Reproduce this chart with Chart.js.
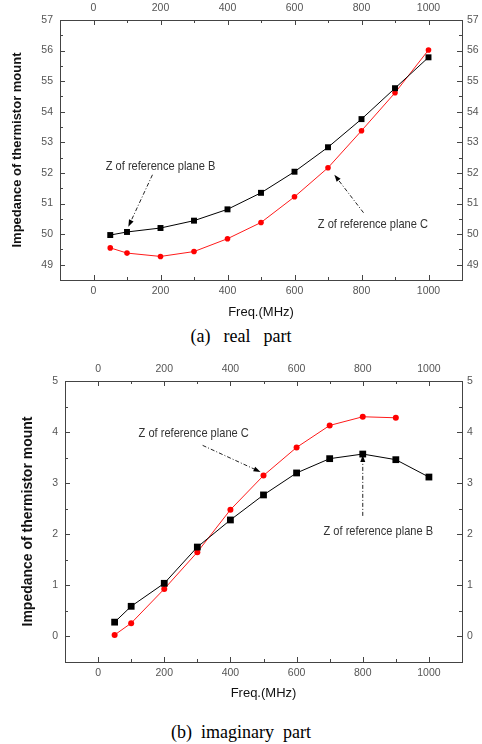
<!DOCTYPE html>
<html>
  <head>
    <title>Impedance of thermistor mount</title>
    <script src="https://cdn.jsdelivr.net/npm/chart.js"></script>
    <style>
      body { margin: 0; background: #fff; width: 482px; height: 744px; position: relative; overflow: hidden; }
      .box { position: absolute; left: 0; width: 482px; }
      .caption { position: absolute; left: 0; width: 482px; text-align: center; white-space: pre; line-height: 21px;
                 font-family: "Liberation Serif", "Times New Roman", serif; font-size: 18px; color: #000; }
    </style>
  </head>
  <body>
    <div class="box" style="top:0;height:322px"><canvas id="realChart"></canvas></div>
    <div class="caption" style="top:326px;word-spacing:2px">(a)  real  part</div>
    <div class="box" style="top:360px;height:345px"><canvas id="imagChart"></canvas></div>
    <div class="caption" style="top:722px">(b)  imaginary  part</div>

    <script>
      // frequency points (MHz)
      const freq = [50, 100, 200, 300, 400, 500, 600, 700, 800, 900, 1000];
      const freqImagC = [50, 100, 200, 300, 400, 500, 600, 700, 800, 900];

      // real part
      const realB = [49.97, 50.07, 50.2, 50.44, 50.81, 51.35, 52.04, 52.84, 53.76, 54.77, 55.78];
      const realC = [49.55, 49.38, 49.27, 49.43, 49.85, 50.38, 51.22, 52.17, 53.38, 54.62, 56.02];

      // imaginary part
      const imagB = [0.28, 0.59, 1.04, 1.75, 2.28, 2.77, 3.2, 3.48, 3.57, 3.46, 3.12];
      const imagC = [0.03, 0.26, 0.93, 1.65, 2.48, 3.15, 3.7, 4.13, 4.3, 4.28];

      const labelB = "Z of reference plane B";
      const labelC = "Z of reference plane C";

      const tickFont = { family: "'Liberation Sans', Arial, sans-serif", size: 10.5 };
      const noteFont = "13.5px 'Liberation Sans', Arial, sans-serif";

      // ticks pointing into the box, long on labelled ticks
      const inwardTicks = {
        id: "inwardTicks",
        afterDraw(chart) {
          const { ctx, chartArea: a } = chart;
          ctx.save();
          ctx.strokeStyle = "#444";
          ctx.lineWidth = 1;
          ["x", "x2", "y", "y2"].forEach((id) => {
            const s = chart.scales[id];
            s.ticks.forEach((t) => {
              const len = t.label !== "" ? 5 : 3;
              const p = Math.round(s.getPixelForValue(t.value)) + 0.5;
              ctx.beginPath();
              if (id === "x") { ctx.moveTo(p, a.bottom); ctx.lineTo(p, a.bottom - len); }
              if (id === "x2") { ctx.moveTo(p, a.top); ctx.lineTo(p, a.top + len); }
              if (id === "y") { ctx.moveTo(a.left, p); ctx.lineTo(a.left + len, p); }
              if (id === "y2") { ctx.moveTo(a.right, p); ctx.lineTo(a.right - len, p); }
              ctx.stroke();
            });
          });
          ctx.restore();
        },
      };

      // text labels and dash-dot arrows placed in data units
      const notes = {
        id: "notes",
        afterDatasetsDraw(chart, args, opts) {
          const { ctx } = chart;
          const sx = chart.scales.x, sy = chart.scales.y;
          ctx.save();
          ctx.font = noteFont;
          ctx.fillStyle = "#333";
          ctx.textAlign = "center";
          ctx.textBaseline = "middle";
          (opts.texts || []).forEach((n) => {
            // narrow lettering, like the original figure
            ctx.save();
            ctx.translate(sx.getPixelForValue(n.x), sy.getPixelForValue(n.y));
            ctx.scale(0.82, 1);
            ctx.fillText(n.text, 0, 0);
            ctx.restore();
          });
          (opts.arrows || []).forEach((n) => {
            const x1 = sx.getPixelForValue(n.from[0]), y1 = sy.getPixelForValue(n.from[1]);
            const x2 = sx.getPixelForValue(n.to[0]), y2 = sy.getPixelForValue(n.to[1]);
            const ang = Math.atan2(y2 - y1, x2 - x1);
            const c = Math.cos(ang), s = Math.sin(ang);
            ctx.strokeStyle = "#222";
            ctx.lineWidth = 1;
            ctx.setLineDash([4, 2, 1, 2]);
            ctx.beginPath();
            ctx.moveTo(x1, y1);
            ctx.lineTo(x2 - 5 * c, y2 - 5 * s);
            ctx.stroke();
            ctx.setLineDash([]);
            ctx.fillStyle = "#000";
            ctx.beginPath();
            ctx.moveTo(x2, y2);
            ctx.lineTo(x2 - 7 * c + 2.5 * s, y2 - 7 * s - 2.5 * c);
            ctx.lineTo(x2 - 7 * c - 2.5 * s, y2 - 7 * s + 2.5 * c);
            ctx.closePath();
            ctx.fill();
          });
          ctx.restore();
        },
      };

      function pts(xs, ys) {
        return ys.map((v, i) => ({ x: xs[i], y: v }));
      }

      function makeChart(el, cfg) {
        const xAxis = (pos, size, pad) => ({
          type: "linear",
          position: pos,
          min: -100,
          max: 1100,
          grid: { display: false, drawTicks: false },
          border: { display: true, color: "#444", width: 1 },
          ticks: {
            stepSize: 100,
            autoSkip: false,
            maxRotation: 0,
            padding: pad,
            color: "#555",
            font: tickFont,
            callback: (v) => (v % 200 === 0 && v >= 0 && v <= 1000 ? v : ""),
          },
          afterFit: (s) => { s.height = size; },
        });
        const yAxis = (pos, size, pad) => ({
          type: "linear",
          position: pos,
          min: cfg.yMin,
          max: cfg.yMax,
          grid: { display: false, drawTicks: false },
          border: { display: true, color: "#444", width: 1 },
          ticks: {
            stepSize: 0.5,
            autoSkip: false,
            padding: pad,
            color: "#555",
            font: tickFont,
            callback: (v) => (Number.isInteger(v) ? v : ""),
          },
          afterFit: (s) => { s.width = size; },
        });

        const x = xAxis("bottom", cfg.bottom, 5);
        x.title = {
          display: true,
          text: "Freq.(MHz)",
          color: "#111",
          font: { family: "'Liberation Sans', Arial, sans-serif", size: 13 },
          padding: { top: 0, bottom: cfg.xTitlePad },
        };
        const y = yAxis("left", cfg.left, 7);
        y.title = {
          display: true,
          text: "Impedance of thermistor mount",
          color: "#111",
          font: { family: "'Liberation Sans', Arial, sans-serif", size: cfg.yTitleSize, weight: "bold" },
          padding: { top: cfg.yTitlePad, bottom: 0 },
        };

        return new Chart(document.getElementById(el), {
          type: "scatter",
          data: {
            datasets: [
              {
                label: labelB,
                data: pts(freq, cfg.b),
                showLine: true,
                borderColor: "#000",
                backgroundColor: "#000",
                borderWidth: 1,
                pointStyle: "rect",
                pointRadius: cfg.sq,
                pointBorderWidth: 0,
              },
              {
                label: labelC,
                data: pts(cfg.cx, cfg.c),
                showLine: true,
                borderColor: "#ff1a1a",
                backgroundColor: "#ff0000",
                borderWidth: 1,
                pointStyle: "circle",
                pointRadius: cfg.dot,
                pointBorderWidth: 0,
              },
            ],
          },
          options: {
            responsive: true,
            maintainAspectRatio: false,
            animation: false,
            layout: { padding: 0 },
            plugins: {
              legend: { display: false },
              tooltip: { enabled: false },
              notes: { texts: cfg.texts, arrows: cfg.arrows },
            },
            scales: {
              x: x,
              x2: xAxis("top", cfg.top, 6),
              y: y,
              y2: yAxis("right", 20, 5),
            },
          },
          plugins: [inwardTicks, notes],
        });
      }

      makeChart("realChart", {
        b: realB, c: realC, cx: freq,
        yMin: 48.5, yMax: 57,
        left: 60, top: 20, bottom: 42,
        xTitlePad: 2, yTitlePad: 10, yTitleSize: 13,
        sq: 4.2, dot: 2.8,
        texts: [
          { text: labelB, x: 200, y: 52.23 },
          { text: labelC, x: 834, y: 50.31 },
        ],
        arrows: [
          { from: [176, 51.94], to: [104, 50.24] },
          { from: [806, 50.7], to: [719, 51.94] },
        ],
      });

      makeChart("imagChart", {
        b: imagB, c: imagC, cx: freqImagC,
        yMin: -0.5, yMax: 5,
        left: 65, top: 21, bottom: 43,
        xTitlePad: 4, yTitlePad: 20, yTitleSize: 14,
        sq: 4.8, dot: 3,
        texts: [
          { text: labelC, x: 289, y: 3.98 },
          { text: labelB, x: 847, y: 2.06 },
        ],
        arrows: [
          { from: [316, 3.74], to: [491, 3.22] },
          { from: [800, 2.36], to: [800, 3.55] },
        ],
      });
    </script>
  </body>
</html>
